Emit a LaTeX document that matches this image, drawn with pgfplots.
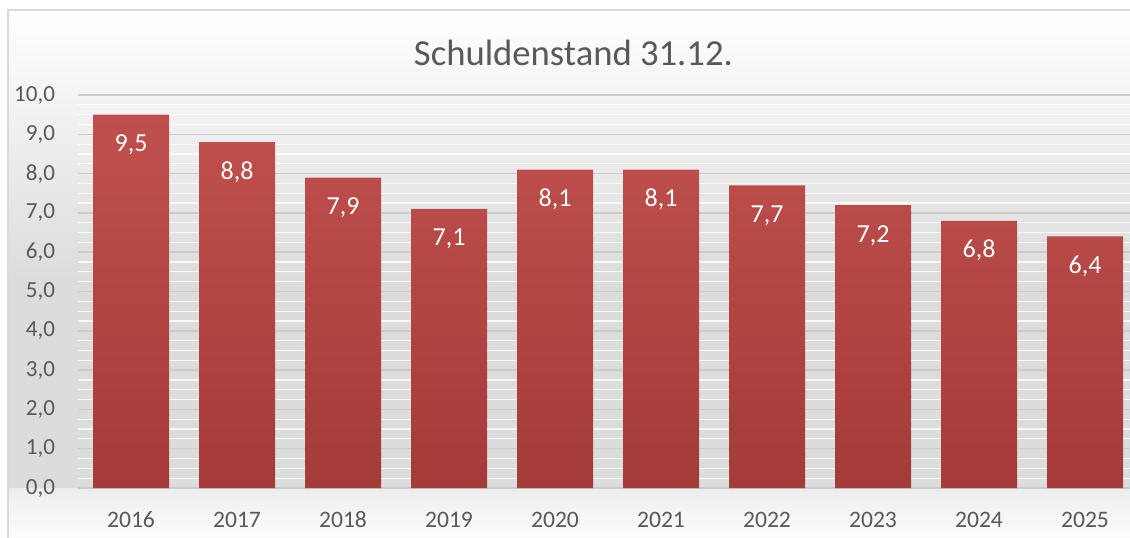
\documentclass[border=0pt]{standalone}
\usepackage{pgfplots}
\pgfplotsset{compat=1.18}
\usepackage{fontspec}
\setmainfont{Carlito}
\definecolor{txt}{HTML}{595959}
\definecolor{barTop}{HTML}{C0504D}
\definecolor{barBot}{HTML}{A43B39}
\definecolor{gridc}{HTML}{CBCBCB}
\definecolor{framec}{HTML}{D9D9D9}
\definecolor{bgmid}{HTML}{DCDCDC}
\begin{document}
\begin{tikzpicture}
\path[use as bounding box] (0,0) rectangle (847.5pt,-403.5pt);
\clip (0,0) rectangle (847.5pt,-403.5pt);
\begin{scope}[x=0.75pt,y=-0.75pt]
\fill[white] (0,0) rectangle (1130,538);
\shade[top color=white, bottom color=bgmid] (8,10) rectangle (1145,280);
\fill[bgmid] (8,279.5) rectangle (1145,488);
\shade[top color=black!7, bottom color=white] (8,488) rectangle (1145,545);
\draw[framec, line width=1.1pt] (8,10) rectangle (1145,560);
\node[anchor=base, text=txt, inner sep=0pt, font=\fontsize{27.5}{30}\selectfont] at (573.5,66) {Schuldenstand 31.12.};
\end{scope}
\begin{axis}[
  at={(58.5pt,-366pt)}, anchor=south west,
  scale only axis, width=795pt, height=294.75pt,
  xmin=-0.5, xmax=9.5, ymin=0, ymax=10,
  ybar, bar width=57pt,
  axis line style={draw=none},
  major tick length=0pt, minor tick length=0pt,
  ytick={0,1,...,10}, minor y tick num=3,
  ymajorgrids, yminorgrids,
  major grid style={gridc, line width=1.1pt},
  minor grid style={white, opacity=0.8, line width=0.9pt},
  xtick={0,...,9},
  xticklabels={2016,2017,2018,2019,2020,2021,2022,2023,2024,2025},
  tick label style={text=txt},
  yticklabel style={font=\fontsize{17.3}{20}\selectfont, anchor=east, inner sep=0pt, xshift=-17pt},
  xticklabel style={font=\fontsize{17.7}{20}\selectfont, anchor=base, inner sep=0pt, yshift=-29.25pt},
  /pgf/number format/assume math mode=true,
  /pgf/number format/use comma,
  /pgf/number format/fixed,
  /pgf/number format/fixed zerofill,
  /pgf/number format/precision=1,
  nodes near coords,
  nodes near coords style={anchor=base, inner sep=0pt, yshift=-27.75pt, text=white, font=\fontsize{19.5}{22}\selectfont},
]
\addplot[draw=none, top color=barTop, bottom color=barBot] coordinates {
(0,9.5) (1,8.8) (2,7.9) (3,7.1) (4,8.1) (5,8.1) (6,7.7) (7,7.2) (8,6.8) (9,6.4)};
\end{axis}
\end{tikzpicture}
\end{document}
